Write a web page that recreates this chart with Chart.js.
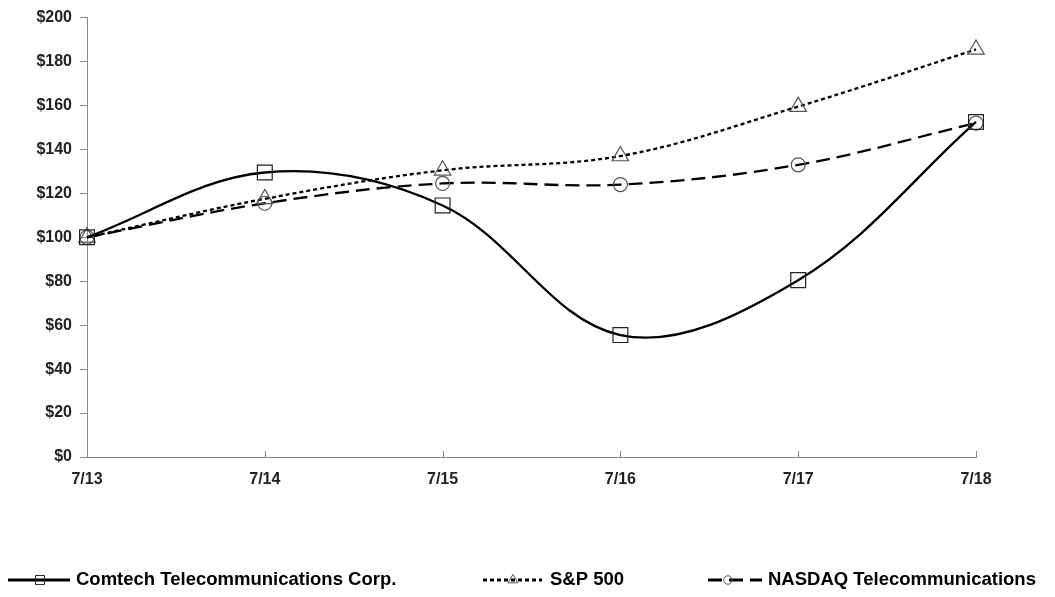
<!DOCTYPE html>
<html>
<head>
<meta charset="utf-8">
<script src="https://cdn.jsdelivr.net/npm/chart.js@4.4.1/dist/chart.umd.min.js"></script>
<style>
  html, body { margin: 0; padding: 0; background: #fff; }
  #wrap { width: 1055px; height: 597px; position: relative; }
</style>
</head>
<body>
<div id="wrap"><canvas id="perfChart" width="1055" height="597"></canvas></div>
<script>
const periods = ["7/13", "7/14", "7/15", "7/16", "7/17", "7/18"];
const comtech = [100, 129.5, 114.5, 55.5, 80.5, 152.5];
const sp500 = [100, 117.5, 130.5, 137, 159.5, 185.5];
const nasdaqTel = [100, 115.5, 124.5, 124, 133, 152];
const yTicks = [0, 20, 40, 60, 80, 100, 120, 140, 160, 180, 200];

const labelFont = { family: "'Liberation Sans', Arial, sans-serif", size: 16, weight: 'bold' };

// x ticks in the original point up into the plot, so draw them by hand
const innerXTicks = {
    id: 'innerXTicks',
    afterDraw(chart) {
        const ctx = chart.ctx;
        const x = chart.scales.x;
        const bottom = chart.chartArea.bottom;
        ctx.save();
        ctx.strokeStyle = '#888';
        ctx.lineWidth = 1;
        periods.forEach((p, i) => {
            const px = Math.round(x.getPixelForValue(i)) + 0.5;
            ctx.beginPath();
            ctx.moveTo(px, bottom);
            ctx.lineTo(px, bottom - 6);
            ctx.stroke();
        });
        ctx.restore();
    }
};

// legend along the bottom: line sample with marker in the middle
const bottomLegend = {
    id: 'bottomLegend',
    afterDraw(chart) {
        const ctx = chart.ctx;
        const items = [
            { ds: 0, x0: 8, x1: 70, mx: 40, text: 'Comtech Telecommunications Corp.', tx: 76 },
            { ds: 1, x0: 483, x1: 542, mx: 513, text: 'S&P 500', tx: 550 },
            { ds: 2, x0: 708, x1: 762, mx: 728, text: 'NASDAQ Telecommunications', tx: 768 }
        ];
        const y = 580;
        ctx.save();
        items.forEach(it => {
            const ds = chart.data.datasets[it.ds];
            ctx.strokeStyle = '#000';
            ctx.lineWidth = 3;
            ctx.setLineDash(ds.borderDash || []);
            ctx.beginPath();
            ctx.moveTo(it.x0, y);
            ctx.lineTo(it.x1, y);
            ctx.stroke();
            ctx.setLineDash([]);
            ctx.fillStyle = 'rgba(0,0,0,0)';
            ctx.strokeStyle = ds.pointBorderColor;
            ctx.lineWidth = 1;
            Chart.helpers.drawPoint(ctx, {
                pointStyle: ds.pointStyle,
                radius: ds.pointRadius * 0.6,
                borderWidth: 1
            }, it.mx, y);
            ctx.fillStyle = '#000';
            ctx.font = "bold 18.5px 'Liberation Sans', Arial, sans-serif";
            ctx.textBaseline = 'middle';
            ctx.fillText(it.text, it.tx, y);
        });
        ctx.restore();
    }
};

new Chart(document.getElementById('perfChart').getContext('2d'), {
    type: 'line',
    data: {
        labels: periods,
        datasets: [{
            label: 'Comtech Telecommunications Corp.',
            data: comtech,
            borderColor: '#000',
            borderWidth: 2.3,
            tension: 0.36,
            pointStyle: 'rect',
            pointRadius: 10.5,
            pointBorderColor: '#222',
            pointBorderWidth: 1.2,
            pointBackgroundColor: 'rgba(0,0,0,0)'
        }, {
            label: 'S&P 500',
            data: sp500,
            borderColor: '#000',
            borderWidth: 2.3,
            borderDash: [4, 3],
            tension: 0.36,
            pointStyle: 'triangle',
            pointRadius: 9.5,
            pointBorderColor: '#555',
            pointBorderWidth: 1.2,
            pointBackgroundColor: 'rgba(0,0,0,0)'
        }, {
            label: 'NASDAQ Telecommunications',
            data: nasdaqTel,
            borderColor: '#000',
            borderWidth: 2.3,
            borderDash: [14, 7],
            tension: 0.36,
            pointStyle: 'circle',
            pointRadius: 7,
            pointBorderColor: '#555',
            pointBorderWidth: 1.2,
            pointBackgroundColor: 'rgba(0,0,0,0)'
        }]
    },
    options: {
        responsive: false,
        animation: false,
        layout: { padding: { top: 17, right: 79, bottom: 99, left: 0 } },
        plugins: {
            legend: { display: false },
            tooltip: { enabled: false }
        },
        scales: {
            x: {
                offset: false,
                grid: { display: false },
                border: { display: true, color: '#888', width: 1 },
                ticks: { color: '#222', font: labelFont, padding: 5, maxRotation: 0 },
                afterFit: axis => { axis.height = 41; }
            },
            y: {
                min: 0,
                max: 200,
                afterBuildTicks: axis => { axis.ticks = yTicks.map(v => ({ value: v })); },
                grid: { drawOnChartArea: false, tickLength: 7, color: '#888' },
                border: { display: true, color: '#888', width: 1 },
                ticks: {
                    color: '#222',
                    font: labelFont,
                    padding: 8,
                    callback: v => '$' + v
                },
                afterFit: axis => { axis.width = 87; }
            }
        }
    },
    plugins: [innerXTicks, bottomLegend]
});
</script>
</body>
</html>
